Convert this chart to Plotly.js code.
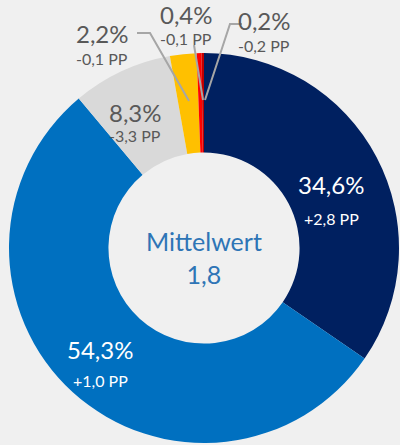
<!DOCTYPE html>
<html><head><meta charset="utf-8">
<script src="https://cdn.plot.ly/plotly-3.0.1.min.js"></script>
<style>html,body{margin:0;padding:0;background:#F0F0F0;}#chart{width:400px;height:445px;}</style>
</head><body><div id="chart"></div>
<script>
const categories = ["Kategorie 1", "Kategorie 2", "Kategorie 3", "Kategorie 4", "Kategorie 5", "Kategorie 6"];
const shares = [34.6, 54.3, 8.3, 2.2, 0.4, 0.2];
const changes = ["+2,8 PP", "+1,0 PP", "-3,3 PP", "-0,1 PP", "-0,1 PP", "-0,2 PP"];
const colors = ["#002060", "#0070C0", "#D9D9D9", "#FFC000", "#FF0000", "#C00000"];
const meanLabel = "Mittelwert";
const meanValue = "1,8";

const W = 400, H = 445;
const px = x => x / W;
const py = y => 1 - y / H;
const fmt = v => v.toFixed(1).replace(".", ",") + "%";
const FONT = "Lato, 'Open Sans', sans-serif";

// label positions (pixels) for each slice: [x, yPct, yPP, color]
const labelPos = [
  [331, 184, 218, "#FFFFFF"],
  [100, 349, 380, "#FFFFFF"],
  [135, 112, 136, "#595959"],
  [102, 34, 58, "#595959"],
  [186, 15, 38, "#595959"],
  [264, 21, 45, "#595959"]
];
const annotations = [];
shares.forEach((v, i) => {
  const p = labelPos[i];
  annotations.push({xref: "paper", yref: "paper", x: px(p[0]), y: py(p[1]), text: fmt(v),
    showarrow: false, xanchor: "center", yanchor: "middle", font: {family: FONT, size: 24, color: p[3]}});
  annotations.push({xref: "paper", yref: "paper", x: px(p[0]), y: py(p[2]), text: changes[i],
    showarrow: false, xanchor: "center", yanchor: "middle", font: {family: FONT, size: 16, color: p[3]}});
});
annotations.push({xref: "paper", yref: "paper", x: px(204), y: py(257), text: meanLabel + "<br>" + meanValue,
  showarrow: false, xanchor: "center", yanchor: "middle", font: {family: FONT, size: 25, color: "#2E75B6"}});

const leaders = [
  [[137, 33], [150, 33], [189, 101]],
  [[194, 45], [203, 100]],
  [[242, 24], [230, 24], [205, 100]]
];
const shapes = leaders.map(pts => ({
  type: "path", xref: "paper", yref: "paper",
  path: pts.map((q, k) => (k ? "L" : "M") + px(q[0]) + "," + py(q[1])).join(" "),
  line: {color: "#A6A6A6", width: 2}
}));

Plotly.newPlot("chart", [{
  type: "pie", labels: categories, values: shares, hole: 0.49, sort: false,
  direction: "clockwise", rotation: 0, textinfo: "none", hoverinfo: "none",
  marker: {colors: colors, line: {width: 0}},
  domain: {x: [px(9), px(399)], y: [py(443), py(53)]}
}], {
  width: W, height: H, margin: {l: 0, r: 0, t: 0, b: 0},
  paper_bgcolor: "#F0F0F0", plot_bgcolor: "#F0F0F0", showlegend: false,
  annotations: annotations, shapes: shapes
}, {staticPlot: true});
</script></body></html>
